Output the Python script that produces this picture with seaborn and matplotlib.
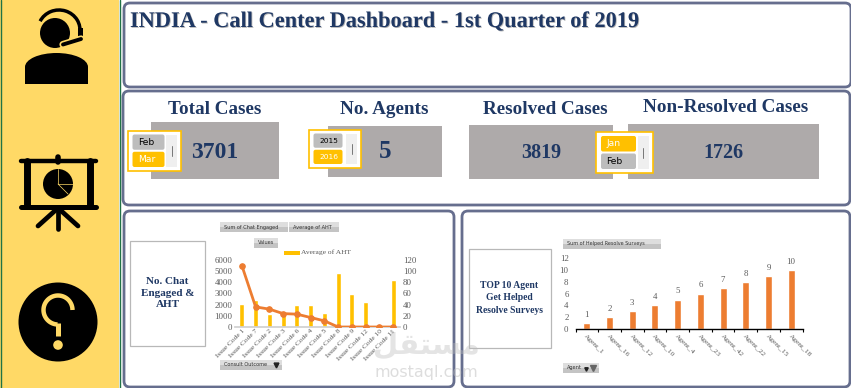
import numpy as np
import pandas as pd
import seaborn as sns
import matplotlib.pyplot as plt
from matplotlib.patches import Rectangle, FancyBboxPatch, Circle, Ellipse, Arc
import matplotlib.patheffects as pe

W, H = 851, 388
NAVY = '#1f3864'
GREY = '#aeaaaa'
GOLD = '#ffc000'
ORANGE = '#ed7d31'
STRIP = '#ffd966'

issue_codes = ['Issue Code 1', 'Issue Code 7', 'Issue Code 2', 'Issue Code 3', 'Issue Code 6', 'Issue Code 4',
               'Issue Code 5', 'Issue Code 8', 'Issue Code 9', 'Issue Code 12', 'Issue Code 10', 'Issue Code 11']
chat_engaged = [2100, 2450, 1200, 1250, 2000, 2000, 1250, 4850, 2950, 2250, 150, 4250]
avg_aht = [110, 36, 32, 24, 23, 17, 11, 0, 0, 0, 0, 0]

agents = ['Agent_1', 'Agent_16', 'Agent_12', 'Agent_10', 'Agent_4', 'Agent_23',
          'Agent_42', 'Agent_22', 'Agent_15', 'Agent_18']
helped_surveys = [1, 2, 3, 4, 5, 6, 7, 8, 9, 10]

kpi_titles = ['Total Cases', 'No. Agents', 'Resolved Cases', 'Non-Resolved Cases']
kpi_values = ['3701', '5', '3819', '1726']

sns.set_theme(style='white')
plt.rcParams['font.family'] = ['Liberation Serif', 'DejaVu Sans']

fig = plt.figure(figsize=(W / 100, H / 100), dpi=100, facecolor='white')

# pixel canvas for the dashboard furniture
bg = fig.add_axes([0, 0, 1, 1], zorder=0)
bg.set_xlim(0, W)
bg.set_ylim(H, 0)
bg.axis('off')


def panel(x0, y0, x1, y1):
    bg.add_patch(FancyBboxPatch((x0 + 5, y0 + 5), x1 - x0 - 10, y1 - y0 - 10, boxstyle='round,pad=5,rounding_size=6',
                                fc='white', ec='#666e8e', lw=2))


def button(x0, y0, x1, y1, label, size=3.6):
    bg.add_patch(Rectangle((x0, y0), x1 - x0, y1 - y0, fc='#c4c4c4', ec='none'))
    bg.add_patch(Rectangle((x0, y0), x1 - x0, (y1 - y0) / 2, fc='#dedede', ec='none'))
    bg.text(x0 + 4, (y0 + y1) / 2, label, fontsize=size, family='DejaVu Sans', color='#333333', va='center', ha='left')


def slicer(x0, y0, x1, y1, items, selected, inner, size=6.6):
    bg.add_patch(Rectangle((x0, y0), x1 - x0, y1 - y0, fc='white', ec=GOLD, lw=1.2, zorder=3))
    bh = (y1 - y0 - 10) / 2
    for i, item in enumerate(items):
        by = y0 + 4 + i * (bh + 2)
        fc = GOLD if i == selected else '#bdbdbd'
        bg.add_patch(FancyBboxPatch((x0 + 5, by), inner, bh, boxstyle='round,pad=0,rounding_size=2',
                                    fc=fc, ec='none', zorder=4))
        bg.text(x0 + 10.5, by + bh / 2, item, fontsize=size, family='DejaVu Sans', va='center', ha='left', zorder=5,
                color='white' if i == selected else 'black')
    bg.add_patch(Rectangle((x1 - 15, y0 + 4), 11, y1 - y0 - 8, fc='#efefef', ec='none', zorder=4))
    bg.plot([x1 - 9.5, x1 - 9.5], [(y0 + y1) / 2 - 5, (y0 + y1) / 2 + 5], color='#777777', lw=0.7, zorder=5)


# side strip
bg.add_patch(Rectangle((0, 0), 119, H, fc=STRIP, ec='none'))
bg.plot([0.5, 0.5], [0, H], color='#217346', lw=1)
bg.plot([119.5, 119.5], [0, H], color='#217346', lw=1)

# headset icon
bg.add_patch(Arc((59, 30), 42, 40, theta1=205, theta2=10, color='black', lw=2.5))
bg.add_patch(Circle((55, 33), 15, fc='black', ec='none'))
bg.add_patch(Ellipse((56.5, 67), 63, 28, fc='black', ec='none'))
bg.add_patch(Rectangle((25, 67), 63, 17, fc='black', ec='none'))
bg.plot([63, 81], [44.5, 39], color=STRIP, lw=5.2, solid_capstyle='round')
bg.plot([63, 81], [44.5, 39], color='black', lw=2.8, solid_capstyle='round')
bg.add_patch(Rectangle((78, 28), 5, 12, fc='black', ec='none'))

# presentation icon
bg.plot([58, 58], [157, 162], color='black', lw=4, solid_capstyle='round')
bg.plot([21, 96], [161, 161], color='black', lw=3.2, solid_capstyle='round')
bg.plot([21, 96], [206.5, 206.5], color='black', lw=3.6, solid_capstyle='round')
bg.plot([26.5, 26.5], [161, 206], color='black', lw=5)
bg.plot([90, 90], [161, 206], color='black', lw=5)
bg.plot([58, 58], [207, 229], color='black', lw=3.4, solid_capstyle='round')
bg.plot([58, 38], [208, 226], color='black', lw=3.4, solid_capstyle='round')
bg.plot([58, 78], [208, 226], color='black', lw=3.4, solid_capstyle='round')
bg.add_patch(Circle((58, 184), 15, fc='black', ec='none'))
bg.plot([58, 58], [169, 184], color=STRIP, lw=0.5)
bg.plot([58, 73], [184, 184], color=STRIP, lw=0.5)
bg.plot([58, 68], [184, 194], color=STRIP, lw=0.5)

# help icon
bg.add_patch(Circle((58, 322), 39.5, fc='black', ec='none'))
th = np.deg2rad(np.linspace(0, -268, 60))
bg.plot(58 + 14.5 * np.cos(th), 310 + 14.5 * np.sin(th), color=STRIP, lw=3.2, solid_capstyle='butt')
bg.plot([58, 58], [323, 336], color=STRIP, lw=3.6, solid_capstyle='butt')
bg.add_patch(Circle((58, 345), 4.8, fc=STRIP, ec='none'))

# panels
panel(124, 3, 851, 87)
panel(123, 91, 850, 205)
panel(124, 211, 454, 387)
panel(462, 211, 850, 387)

shadow = [pe.withSimplePatchShadow(offset=(0.6, -0.6), shadow_rgbFace='#888888', alpha=0.6)]
bg.text(130, 22, 'INDIA - Call Center Dashboard - 1st Quarter of 2019', fontsize=16.1, fontweight='bold',
        color=NAVY, va='center', ha='left', path_effects=shadow)

# KPI blocks
bg.add_patch(Rectangle((151, 122), 128, 57, fc=GREY, ec='none'))
bg.add_patch(Rectangle((328, 126), 114, 51, fc=GREY, ec='none'))
bg.add_patch(Rectangle((469, 125), 144, 54, fc=GREY, ec='none'))
bg.add_patch(Rectangle((628, 124), 191, 55, fc=GREY, ec='none'))
title_xy = [(214.5, 109), (384, 109), (545, 110), (726, 108)]
value_xy = [(214.5, 152), (385, 152), (541, 153), (723.5, 153)]
value_sizes = [17, 18, 14.5, 14.5]
for t, v, txy, vxy, vs in zip(kpi_titles, kpi_values, title_xy, value_xy, value_sizes):
    bg.text(txy[0], txy[1], t, fontsize=13.8, fontweight='bold', color=NAVY, ha='center', va='center')
    bg.text(vxy[0], vxy[1], v, fontsize=vs, fontweight='bold', color=NAVY, ha='center', va='center')
slicer(127.5, 130.5, 181, 171, ['Feb', 'Mar'], 1, 32)
slicer(308.5, 129.5, 361, 168, ['2015', '2016'], 1, 29, size=5.4)
slicer(596, 132, 652.5, 173, ['Jan', 'Feb'], 0, 35)

# label boxes next to the charts
bg.add_patch(Rectangle((130, 240.5), 75, 105, fc='white', ec='#b8b8b8', lw=0.9))
bg.text(167.5, 293, 'No. Chat\nEngaged &\nAHT', fontsize=8, fontweight='bold', color=NAVY,
        ha='center', va='center', linespacing=1.3)
bg.add_patch(Rectangle((468.5, 248.5), 82, 99, fc='white', ec='#b8b8b8', lw=0.9))
bg.text(509, 298, 'TOP 10 Agent\nGet Helped\nResolve Surveys', fontsize=6.9, fontweight='bold', color=NAVY,
        ha='center', va='center', linespacing=1.5)

button(220, 222, 288, 232, 'Sum of Chat Engaged')
button(289, 222, 339, 232, 'Average of AHT')
button(254, 238, 278, 248, 'Values')
button(220, 360, 282, 370, 'Consult Outcome')
bg.plot([276], [364.5], marker='v', color='#222222', ms=3.5)
button(563, 239, 661, 249, 'Sum of Helped Resolve Surveys', size=3.5)
button(563, 363, 599, 373, 'Agent')
bg.plot([586], [369], marker='v', color='#222222', ms=2.5)
bg.plot([593], [368], marker='v', color='#666666', ms=5)


def to_axes(x0, y0, x1, y1):
    return [x0 / W, 1 - y1 / H, (x1 - x0) / W, (y1 - y0) / H]


# chat engaged / AHT combo
chat = pd.DataFrame({'code': issue_codes, 'chat': chat_engaged, 'aht': avg_aht})
ax = fig.add_axes(to_axes(235, 260, 400, 327), zorder=2)
ax.patch.set_alpha(0)
sns.barplot(data=chat, x='code', y='chat', color=GOLD, saturation=1, width=0.36, ax=ax)
ax.set_ylim(0, 6000)
ax.set_xlim(-0.5, 11.5)
ax.set_xlabel('')
ax.set_ylabel('')
ax.set_yticks(range(0, 6001, 1000))
ax.tick_params(axis='y', labelsize=6.3, length=0, pad=2, labelcolor='#595959')
ax.tick_params(axis='x', length=0, pad=1)
ax.set_xticks(range(12))
ax.set_xticklabels(issue_codes, rotation=45, ha='right', rotation_mode='anchor', fontsize=5.4, color='#595959')
sns.despine(ax=ax, left=True)
ax.spines['bottom'].set_color('#d0d0d0')
ax2 = ax.twinx()
ax2.patch.set_alpha(0)
sns.lineplot(data=chat, x='code', y='aht', color=ORANGE, lw=2, marker='o', ms=4, mec=ORANGE, ax=ax2)
ax2.set_ylim(0, 120)
ax2.set_xlabel('')
ax2.set_ylabel('')
ax2.set_yticks(range(0, 121, 20))
ax2.tick_params(axis='y', labelsize=6.3, length=0, pad=2, labelcolor='#595959')
for s in ax2.spines.values():
    s.set_visible(False)
bg.add_patch(Rectangle((284, 251), 15.5, 4, fc=GOLD, ec='none'))
bg.text(301, 252.5, 'Average of AHT', fontsize=5.4, color='#595959', va='center', ha='left')

# top 10 agents
top = pd.DataFrame({'agent': agents, 'surveys': helped_surveys})
ax3 = fig.add_axes(to_axes(575.5, 258.3, 802.5, 329), zorder=2)
ax3.patch.set_alpha(0)
sns.barplot(data=top, x='agent', y='surveys', color=ORANGE, saturation=1, width=0.31, ax=ax3)
ax3.set_ylim(0, 12)
ax3.set_xlim(-0.5, 9.5)
ax3.set_xlabel('')
ax3.set_ylabel('')
ax3.set_yticks(range(0, 13, 2))
ax3.tick_params(axis='y', labelsize=6.3, length=0, pad=5, labelcolor='#595959')
ax3.set_xticks(np.arange(-0.5, 10, 1), minor=True)
ax3.tick_params(axis='x', which='minor', bottom=True, length=2.5, width=0.8, color='black', direction='out')
ax3.tick_params(axis='x', which='major', length=0, pad=3)
ax3.set_xticks(range(10))
ax3.set_xticklabels(agents, rotation=-45, ha='left', rotation_mode='anchor', fontsize=5.3, color='#595959')
ax3.bar_label(ax3.containers[0], fontsize=6.3, color='#595959', padding=3)
sns.despine(ax=ax3, left=True)
ax3.spines['bottom'].set_color('black')
ax3.spines['bottom'].set_linewidth(1)

# watermark
wm = fig.add_axes([0, 0, 1, 1], zorder=5)
wm.set_xlim(0, W)
wm.set_ylim(H, 0)
wm.axis('off')
wm.patch.set_alpha(0)
wm.text(426, 346, '\ufede\ufed8\ufe98\ufeb4\ufee3', fontsize=21, fontweight='bold', family='DejaVu Sans',
        color='#bdbdbd', alpha=0.4, ha='center', va='center')
wm.text(426, 373, 'mostaql.com', fontsize=11.5, family='DejaVu Sans', color='#bdbdbd', alpha=0.5,
        ha='center', va='center')

fig.savefig('out.png', dpi=100)
